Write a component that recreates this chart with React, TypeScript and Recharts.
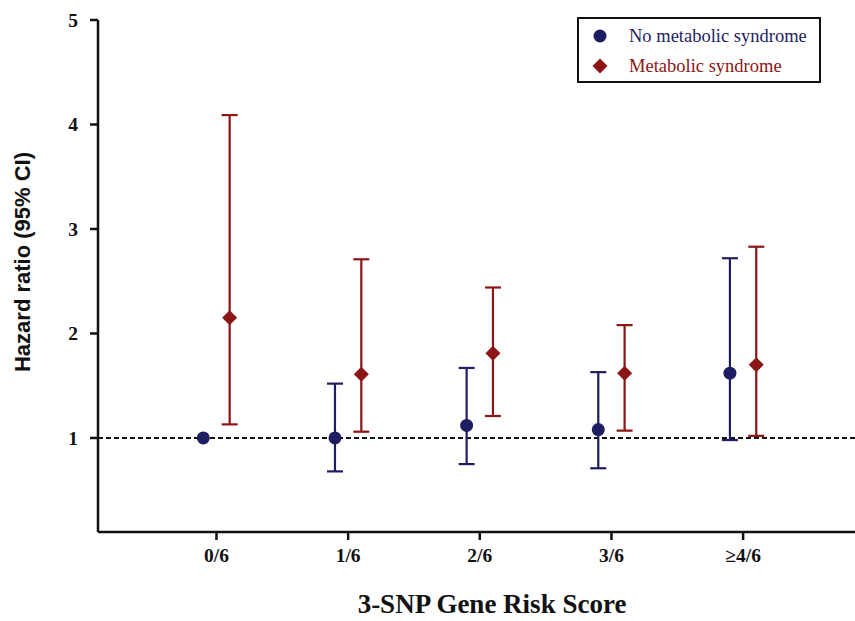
import { ComposedChart, Scatter, ErrorBar, XAxis, YAxis, ReferenceLine, Label } from 'recharts';

const categories = ['0/6', '1/6', '2/6', '3/6', '≥4/6'];

// no metabolic syndrome (0/6 is the reference group, no CI)
const noMetsHR = [1.0, 1.0, 1.12, 1.08, 1.62];
const noMetsLower = [1.0, 0.68, 0.75, 0.71, 0.98];
const noMetsUpper = [1.0, 1.52, 1.67, 1.63, 2.72];

// metabolic syndrome
const metsHR = [2.15, 1.61, 1.81, 1.62, 1.7];
const metsLower = [1.13, 1.06, 1.21, 1.07, 1.02];
const metsUpper = [4.09, 2.71, 2.44, 2.08, 2.83];

const yTicks = [1, 2, 3, 4, 5];

const NAVY = '#1f1d62';
const RED = '#8c1515';
const SHIFT = 0.1;

const build = (hr: number[], lo: number[], hi: number[], shift: number) =>
  hr.map((v, i) => ({
    x: i + 1 + shift,
    hr: v,
    err: [v - lo[i], hi[i] - v],
    hasCI: lo[i] !== hi[i],
  }));

const noMets = build(noMetsHR, noMetsLower, noMetsUpper, -SHIFT);
const mets = build(metsHR, metsLower, metsUpper, SHIFT);
const noMetsCI = noMets.filter((d) => d.hasCI);
const noMetsRef = noMets.filter((d) => !d.hasCI);

const Dot = (p: any) => <circle cx={p.cx} cy={p.cy} r={6.5} fill={NAVY} />;
const Diamond = (p: any) => {
  const s = 7.5;
  return (
    <polygon
      points={`${p.cx},${p.cy - s} ${p.cx + s},${p.cy} ${p.cx},${p.cy + s} ${p.cx - s},${p.cy}`}
      fill={RED}
    />
  );
};

const legendItems = [
  { name: 'No metabolic syndrome', color: NAVY, shape: 'circle' },
  { name: 'Metabolic syndrome', color: RED, shape: 'diamond' },
];

const LegendBox = () => (
  <div
    style={{
      position: 'absolute',
      left: 577,
      top: 17,
      width: 244,
      height: 66,
      border: '2px solid #111',
      boxSizing: 'border-box',
      background: '#fff',
      fontFamily: '"Liberation Serif", "Times New Roman", serif',
      fontSize: 18.5,
    }}
  >
    {legendItems.map((it, i) => (
      <div
        key={it.name}
        style={{ position: 'absolute', left: 0, top: 3 + i * 30, height: 28, display: 'flex', alignItems: 'center' }}
      >
        <svg width={40} height={28} style={{ marginLeft: 1 }}>
          {it.shape === 'circle' ? (
            <circle cx={20} cy={14} r={6.5} fill={it.color} />
          ) : (
            <polygon points="20,6.5 27.5,14 20,21.5 12.5,14" fill={it.color} />
          )}
        </svg>
        <span style={{ color: it.color, marginLeft: 9, whiteSpace: 'nowrap' }}>{it.name}</span>
      </div>
    ))}
  </div>
);

const tickFont = {
  fontFamily: '"Liberation Serif", "Times New Roman", serif',
  fontWeight: 700,
  fontSize: 19.5,
  fill: '#111',
};

export default function App() {
  return (
    <div style={{ position: 'absolute', left: 0, top: 0, width: 855, height: 621, background: '#fff' }}>
      <ComposedChart width={855} height={621} margin={{ top: 20, right: 0, bottom: 0, left: 0 }}>
        <XAxis
          type="number"
          dataKey="x"
          domain={[0.1, 5.85]}
          ticks={[1, 2, 3, 4, 5]}
          tickFormatter={(v: number) => categories[v - 1]}
          allowDataOverflow
          height={89}
          tickSize={8}
          tickMargin={8}
          tick={tickFont}
          axisLine={{ stroke: '#111', strokeWidth: 2.5 }}
          tickLine={{ stroke: '#111', strokeWidth: 2.5 }}
        >
          <Label
            content={() => (
              <text
                x={492}
                y={613}
                textAnchor="middle"
                fontFamily='"Liberation Serif", "Times New Roman", serif'
                fontWeight={700}
                fontSize={27}
                fill="#111"
              >
                3-SNP Gene Risk Score
              </text>
            )}
          />
        </XAxis>
        <YAxis
          type="number"
          dataKey="hr"
          domain={[0.1, 5]}
          ticks={yTicks}
          allowDataOverflow
          width={98}
          tickSize={8}
          tickMargin={12}
          tick={tickFont}
          axisLine={{ stroke: '#111', strokeWidth: 2.5 }}
          tickLine={{ stroke: '#111', strokeWidth: 2.5 }}
        >
          <Label
            content={() => (
              <text
                x={30}
                y={262}
                transform="rotate(-90 30 262)"
                textAnchor="middle"
                fontFamily='"Liberation Sans", Arial, sans-serif'
                fontWeight={700}
                fontSize={22}
                fill="#111"
              >
                Hazard ratio (95% CI)
              </text>
            )}
          />
        </YAxis>
        <ReferenceLine y={1} stroke="#111" strokeWidth={2} strokeDasharray="5 3" />
        <Scatter name="No metabolic syndrome" data={noMetsCI} shape={Dot} isAnimationActive={false}>
          <ErrorBar dataKey="err" direction="y" width={8} stroke={NAVY} strokeWidth={2.2} />
        </Scatter>
        <Scatter name="reference" data={noMetsRef} shape={Dot} legendType="none" isAnimationActive={false} />
        <Scatter name="Metabolic syndrome" data={mets} shape={Diamond} isAnimationActive={false}>
          <ErrorBar dataKey="err" direction="y" width={8} stroke={RED} strokeWidth={2.2} />
        </Scatter>
      </ComposedChart>
      <LegendBox />
    </div>
  );
}
